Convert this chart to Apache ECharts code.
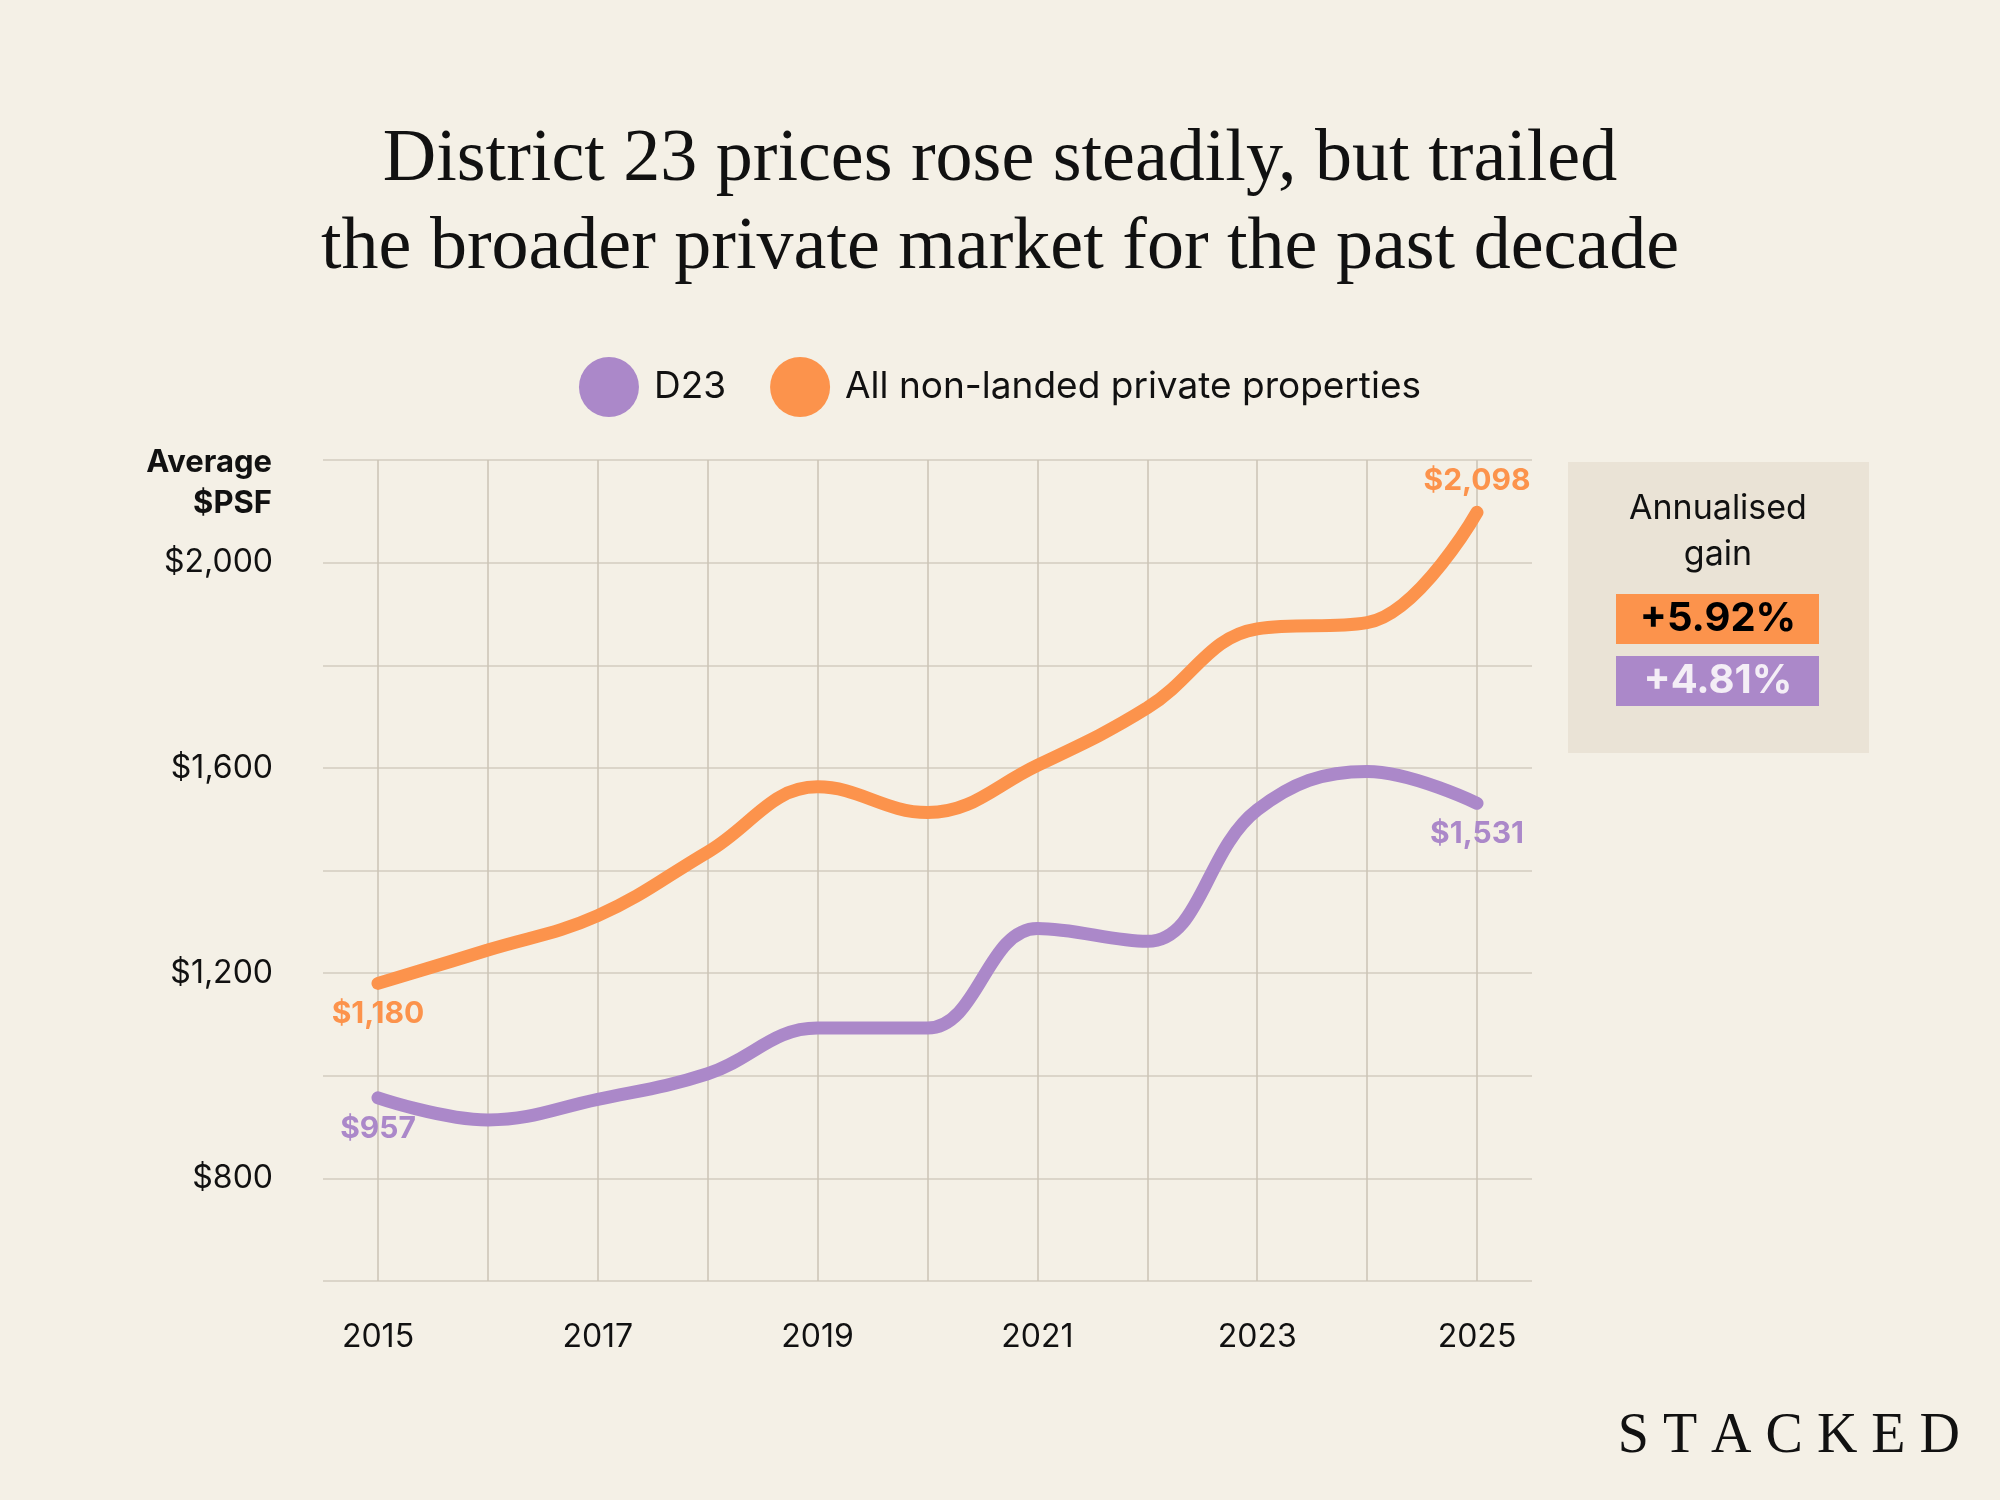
<!DOCTYPE html>
<html><head><meta charset="utf-8">
<script src="https://cdn.jsdelivr.net/npm/echarts@6/dist/echarts.min.js"></script>
<style>html,body{margin:0;background:#F4F0E6}#c{width:2000px;height:1500px}</style>
</head><body><div id="c"></div>
<script>
const years = [2015,2016,2017,2018,2019,2020,2021,2022,2023,2024,2025];
const allNonLanded = [1180,1245,1312,1436,1563,1513,1605,1717,1871,1883,2098];
const d23 = [957,914,954,1004,1093,1093,1287,1262,1518,1593,1531];
const yTickLabels = [800,1200,1600,2000];
const gains = ['+5.92%','+4.81%'];
const ORANGE='#FC934C', PURPLE='#AB88C9';
const fmt = v => '$' + v.toLocaleString('en-US');
function mk(vals, endPos, startPos, color){
  return vals.map((v,i)=>{
    const o={value:[years[i],v]};
    if(i===0||i===vals.length-1){
      o.label={show:true,position:i===0?startPos:endPos,formatter:fmt(v),color:color,
        fontFamily:'Inter',fontWeight:'bold',fontSize:30,distance:16};
    }
    return o;
  });
}
const chart = echarts.init(document.getElementById('c'));
chart.setOption({
  backgroundColor:'#F4F0E6',
  animation:false,
  title:{text:'District 23 prices rose steadily, but trailed\nthe broader private market for the past decade',
    left:'center',top:112,
    textStyle:{fontFamily:'Liberation Serif',fontWeight:'normal',fontSize:74,lineHeight:88,color:'#111'}},
  legend:{top:352,left:'center',itemWidth:60,itemHeight:60,itemGap:44,icon:'circle',
    textStyle:{fontFamily:'Inter',fontSize:37,color:'#111',padding:[0,0,0,10]},
    data:['D23','All non-landed private properties']},
  grid:[{left:323,right:468,top:460,bottom:219},{left:378,right:523,top:460,bottom:219}],
  xAxis:[
    {gridIndex:0,type:'value',min:0,max:1,show:false},
    {gridIndex:1,type:'value',min:2015,max:2025,interval:1,
     axisLine:{show:false},axisTick:{show:false},
     axisLabel:{margin:40,fontFamily:'Inter',fontSize:32,color:'#111',
       formatter:v=>(v%2===1?String(v):'')},
     splitLine:{show:true,lineStyle:{color:'#CBC3B5',width:1.5}}}
  ],
  yAxis:[
    {gridIndex:0,type:'value',min:600,max:2200,interval:200,
     axisLine:{show:false},axisTick:{show:false},
     axisLabel:{margin:50,fontFamily:'Inter',fontSize:32,color:'#111',
       formatter:v=>yTickLabels.includes(v)?fmt(v):''},
     splitLine:{show:true,lineStyle:{color:'#D3CCBF',width:1.5}}},
    {gridIndex:1,type:'value',min:600,max:2200,interval:200,show:false,splitLine:{show:false}}
  ],
  series:[
    {name:'D23',type:'line',xAxisIndex:1,yAxisIndex:1,smooth:0.4,symbol:'circle',symbolSize:0.1,showSymbol:true,
     color:PURPLE,lineStyle:{width:13,color:PURPLE,cap:'round'},data:mk(d23,'bottom','bottom',PURPLE),z:3},
    {name:'All non-landed private properties',type:'line',xAxisIndex:1,yAxisIndex:1,smooth:0.4,symbol:'circle',symbolSize:0.1,showSymbol:true,
     color:ORANGE,lineStyle:{width:13,color:ORANGE,cap:'round'},data:mk(allNonLanded,'top','bottom',ORANGE),z:4}
  ],
  graphic:[
    {type:'text',style:{x:272,y:442,text:'Average\n$PSF',align:'right',fontFamily:'Inter',fontWeight:'bold',fontSize:31,lineHeight:41,fill:'#111'}},
    {type:'rect',shape:{x:1568,y:462,width:301,height:291},style:{fill:'#EAE3D6'}},
    {type:'text',style:{x:1718,y:486,text:'Annualised\ngain',align:'center',fontFamily:'Inter',fontSize:34,lineHeight:46,fill:'#111'}},
    {type:'rect',shape:{x:1616,y:594,width:203,height:50},style:{fill:ORANGE}},
    {type:'text',style:{x:1718,y:619,text:gains[0],align:'center',verticalAlign:'middle',fontFamily:'Inter',fontWeight:'bold',fontSize:40,fill:'#000'}},
    {type:'rect',shape:{x:1616,y:656,width:203,height:50},style:{fill:PURPLE}},
    {type:'text',style:{x:1718,y:681,text:gains[1],align:'center',verticalAlign:'middle',fontFamily:'Inter',fontWeight:'bold',fontSize:40,fill:'#F4EEF6'}},
    {type:'text',style:{x:1960,y:1437,text:'S T A C K E D',align:'right',verticalAlign:'middle',fontFamily:'Liberation Serif',fontSize:56,fill:'#111'}}
  ]
});
</script></body></html>
